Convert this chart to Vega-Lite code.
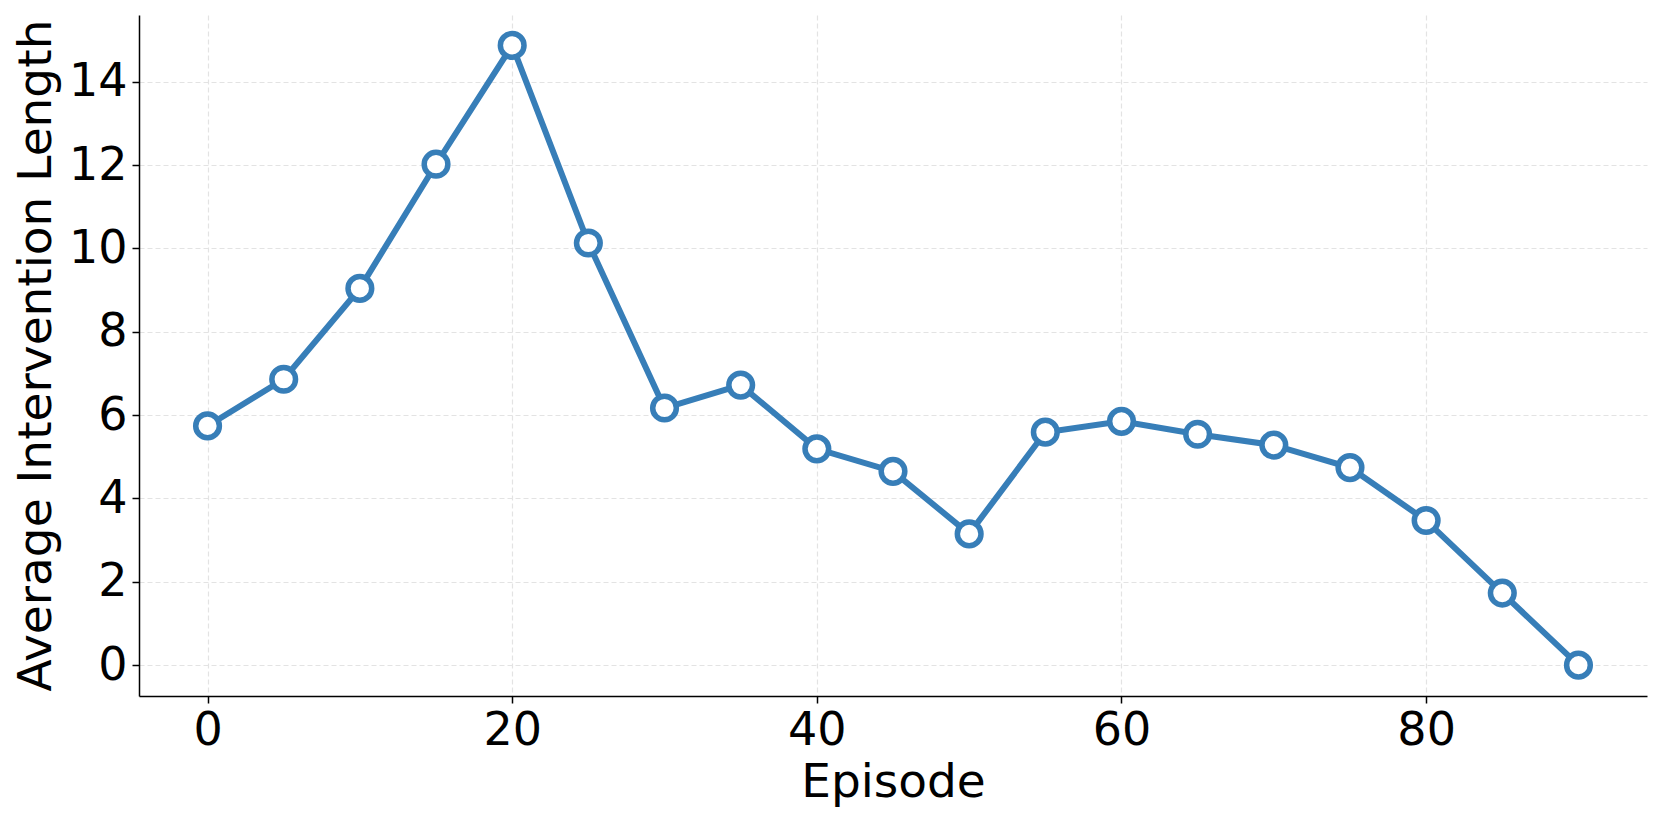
{
  "$schema": "https://vega.github.io/schema/vega-lite/v6.json",
  "autosize": {"type": "none"},
  "width": 1508,
  "height": 681,
  "padding": {"left": 139, "top": 15, "right": 14, "bottom": 126},
  "background": "white",
  "config": {
    "view": {"stroke": null},
    "font": "DejaVu Sans",
    "axis": {
      "labelFont": "DejaVu Sans",
      "titleFont": "DejaVu Sans",
      "labelFontSize": 46,
      "titleFontSize": 47,
      "titleFontWeight": "normal",
      "labelColor": "black",
      "titleColor": "black",
      "domainColor": "black",
      "domainWidth": 1.5,
      "tickColor": "black",
      "tickWidth": 1.5,
      "tickSize": 7,
      "labelPadding": 5,
      "gridColor": "#e3e3e3",
      "gridDash": [5, 3],
      "gridWidth": 1.2
    }
  },
  "data": {
    "values": [
      {"episode": 0, "length": 5.74},
      {"episode": 5, "length": 6.86},
      {"episode": 10, "length": 9.04},
      {"episode": 15, "length": 12.02},
      {"episode": 20, "length": 14.87},
      {"episode": 25, "length": 10.13},
      {"episode": 30, "length": 6.17},
      {"episode": 35, "length": 6.72},
      {"episode": 40, "length": 5.19},
      {"episode": 45, "length": 4.65},
      {"episode": 50, "length": 3.15},
      {"episode": 55, "length": 5.59},
      {"episode": 60, "length": 5.85},
      {"episode": 65, "length": 5.54},
      {"episode": 70, "length": 5.28},
      {"episode": 75, "length": 4.74},
      {"episode": 80, "length": 3.47},
      {"episode": 85, "length": 1.73},
      {"episode": 90, "length": 0.0}
    ]
  },
  "encoding": {
    "x": {
      "field": "episode",
      "type": "quantitative",
      "scale": {"domain": [-4.5, 94.5], "nice": false, "zero": false},
      "axis": {"values": [0, 20, 40, 60, 80], "title": "Episode", "titlePadding": 6}
    },
    "y": {
      "field": "length",
      "type": "quantitative",
      "scale": {"domain": [-0.74, 15.6], "nice": false, "zero": false},
      "axis": {
        "values": [0, 2, 4, 6, 8, 10, 12, 14],
        "title": "Average Intervention Length",
        "titleX": -103,
        "titleY": 340,
        "titleAngle": 270,
        "titleAlign": "center",
        "titleBaseline": "middle"
      }
    }
  },
  "layer": [
    {
      "mark": {"type": "line", "color": "#377eb8", "strokeWidth": 6}
    },
    {
      "mark": {"type": "point", "shape": "circle", "filled": true, "fill": "white", "stroke": "#377eb8", "strokeWidth": 5.5, "size": 560, "opacity": 1}
    }
  ]
}
